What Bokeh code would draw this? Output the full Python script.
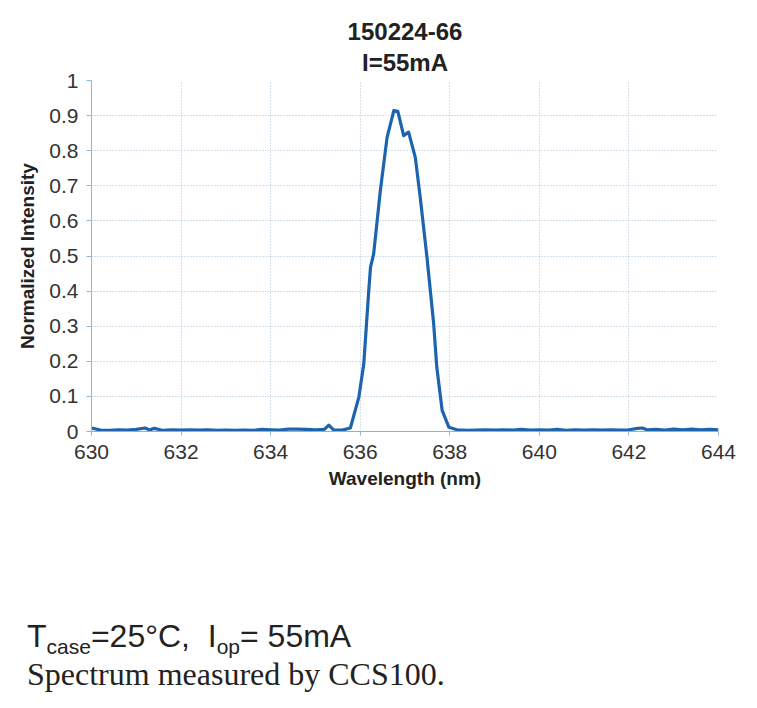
from bokeh.plotting import figure
from bokeh.models import Title, Div, FixedTicker, Range1d
from bokeh.layouts import column
from bokeh.embed import file_html
from bokeh.resources import INLINE

# ---- data ----
wavelength = [
    630.0, 630.2, 630.4, 630.6, 630.8, 631.0, 631.2, 631.3, 631.4, 631.6,
    631.8, 632.0, 632.2, 632.4, 632.6, 632.8, 633.0, 633.2, 633.4, 633.6,
    633.8, 634.0, 634.2, 634.4, 634.6, 634.8, 635.0, 635.2, 635.3, 635.4,
    635.6, 635.78, 635.97, 636.08, 636.19, 636.23, 636.30, 636.45, 636.60,
    636.75, 636.84, 636.97, 637.08, 637.23, 637.34, 637.49, 637.64, 637.71,
    637.83, 637.98, 638.16, 638.4, 638.6, 638.8, 639.0, 639.2, 639.4, 639.6,
    639.8, 640.0, 640.2, 640.4, 640.6, 640.8, 641.0, 641.2, 641.4, 641.6,
    641.8, 642.0, 642.2, 642.3, 642.4, 642.6, 642.8, 643.0, 643.2, 643.4,
    643.6, 643.8, 644.0,
]
intensity = [
    0.010, 0.004, 0.003, 0.005, 0.004, 0.006, 0.010, 0.004, 0.009, 0.003,
    0.005, 0.004, 0.005, 0.004, 0.005, 0.003, 0.004, 0.003, 0.004, 0.003,
    0.006, 0.005, 0.004, 0.007, 0.007, 0.006, 0.005, 0.006, 0.018, 0.005,
    0.004, 0.010, 0.098, 0.193, 0.400, 0.468, 0.506, 0.687, 0.838,
    0.914, 0.912, 0.843, 0.853, 0.781, 0.667, 0.497, 0.307, 0.183,
    0.060, 0.012, 0.005, 0.003, 0.004, 0.005, 0.004, 0.005, 0.004, 0.006,
    0.004, 0.005, 0.004, 0.006, 0.003, 0.005, 0.004, 0.005, 0.004, 0.005,
    0.004, 0.005, 0.009, 0.010, 0.005, 0.006, 0.004, 0.007, 0.005, 0.007,
    0.005, 0.006, 0.005,
]
x_ticks = [630, 632, 634, 636, 638, 640, 642, 644]
y_ticks = [0, 0.1, 0.2, 0.3, 0.4, 0.5, 0.6, 0.7, 0.8, 0.9, 1]
y_tick_labels = ["0", "0.1", "0.2", "0.3", "0.4", "0.5", "0.6", "0.7", "0.8", "0.9", "1"]

title_line1 = "150224-66"
title_line2 = "I=55mA"

FONT = "Liberation Sans"
TEXT_COLOR = "#333333"
GRID_COLOR = "#a9c3d9"

p = figure(
    frame_width=627, frame_height=351,
    min_border_left=91, min_border_right=31, min_border_top=80, min_border_bottom=70,
    output_backend="svg", toolbar_location=None,
    x_range=Range1d(630, 644), y_range=Range1d(0, 1),
    background_fill_color="white", border_fill_color="white",
)
p.outline_line_color = None

p.title.text = title_line1
p.title.align = "center"
p.title.text_font = FONT
p.title.text_font_size = "24px"
p.title.text_font_style = "bold"
p.title.text_color = "#222222"
p.title.standoff = 4
t2 = Title(text=title_line2, align="center", text_font=FONT, text_font_size="24px",
           text_font_style="bold", text_color="#222222", standoff=10)
p.add_layout(t2, "above")

p.line(wavelength, intensity, line_color="#1c64ad", line_width=3.2, line_join="round")

# axes
p.xaxis.ticker = FixedTicker(ticks=x_ticks)
p.yaxis.ticker = FixedTicker(ticks=y_ticks)
p.yaxis.major_label_overrides = {t: l for t, l in zip(y_ticks, y_tick_labels)}
p.xaxis.axis_label = "Wavelength (nm)"
p.yaxis.axis_label = "Normalized Intensity"
for ax in (p.xaxis, p.yaxis):
    ax.axis_label_text_font = FONT
    ax.axis_label_text_font_size = "19px"
    ax.axis_label_text_font_style = "bold"
    ax.axis_label_text_color = "#222222"
    ax.major_label_text_font = FONT
    ax.major_label_text_font_size = "21px"
    ax.major_label_text_color = TEXT_COLOR
    ax.minor_tick_line_color = None
    ax.major_tick_in = 0
ax = p.yaxis[0]
ax.axis_line_color = "#8fb6da"
ax.major_tick_line_color = "#8fb6da"
ax.major_tick_out = 5
ax.major_label_standoff = 8
ax.axis_label_standoff = 8
ax = p.xaxis[0]
ax.axis_line_color = "#9fb0a8"
ax.major_tick_line_color = "#8fb6da"
ax.major_tick_out = 4
ax.major_label_standoff = 9
ax.axis_label_standoff = 6

p.xgrid.grid_line_color = GRID_COLOR
p.ygrid.grid_line_color = GRID_COLOR
p.xgrid.grid_line_dash = "1 2"
p.ygrid.grid_line_dash = "1 2"
p.xgrid.grid_line_width = 1
p.ygrid.grid_line_width = 1

sub_style = "font-size:21px;line-height:0;vertical-align:-7px;"
note_html = (
    '<div style="font-family:\'Liberation Sans\';font-size:32px;color:#222;line-height:38px;height:38px;white-space:nowrap;">'
    f'T<span style="{sub_style}">case</span>=25°C,&nbsp; I<span style="{sub_style}">op</span>= 55mA</div>'
    '<div style="font-family:\'Liberation Serif\';font-size:32px;color:#222;line-height:38px;white-space:nowrap;">'
    'Spectrum measured by CCS100.</div>'
)
note = Div(text=note_html, width=600, height=80, margin=(116, 0, 0, 27))

layout = column(p, note)
open("out.html", "w").write(file_html(layout, INLINE))
